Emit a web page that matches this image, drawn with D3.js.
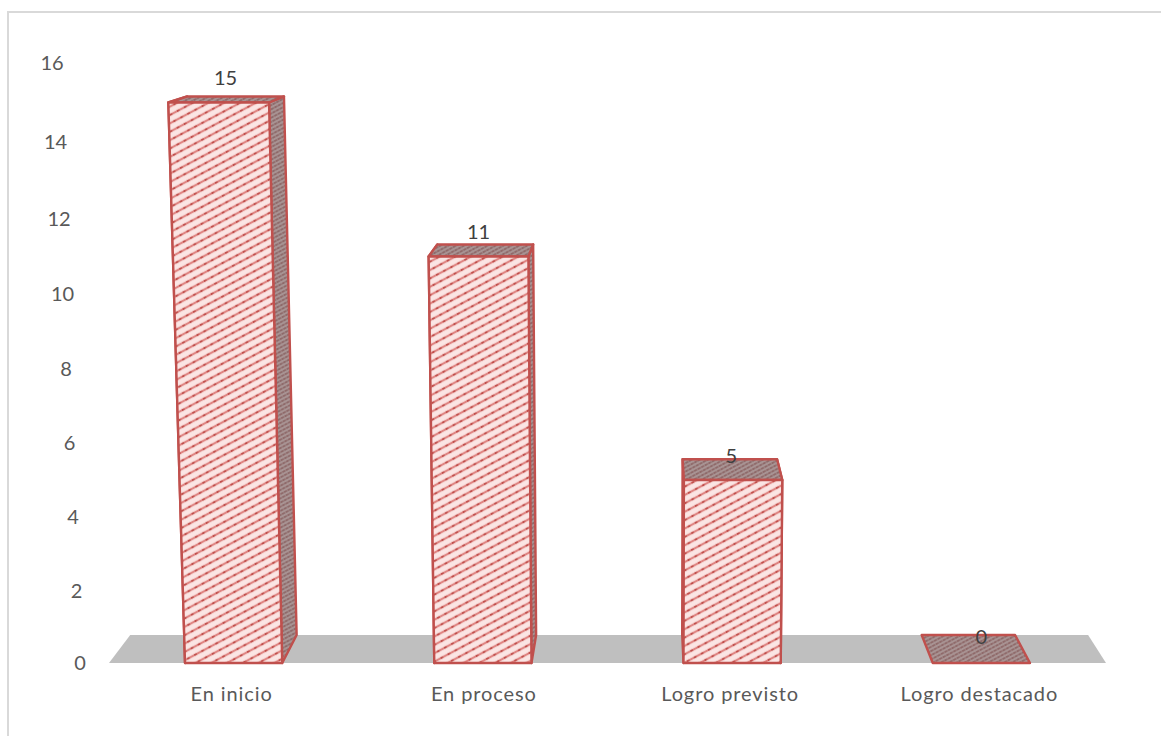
<!DOCTYPE html>
<html><head><meta charset="utf-8">
<script src="https://cdnjs.cloudflare.com/ajax/libs/d3/7.8.5/d3.min.js"></script>
<style>html,body{margin:0;background:#fff}svg{display:block}text{font-family:Lato,"Open Sans",sans-serif}</style>
</head><body><svg id="c" width="1161" height="736"></svg>
<script>
const categories = ["En inicio","En proceso","Logro previsto","Logro destacado"];
const values = [15,11,5,0];
const tickValues = [0,2,4,6,8,10,12,14,16];
const tickPixels = [663,591,517,443,369,294,219,142,63];

const svg = d3.select("#c");
const RED="#c0504d", TXT="#595959";
const defs = svg.append("defs");
function pat(id,bg,fg,sw,dark,w,h){
  const p=defs.append("pattern").attr("id",id).attr("patternUnits","userSpaceOnUse")
    .attr("width",w).attr("height",h).attr("patternTransform","rotate(-28)");
  p.append("rect").attr("width",w).attr("height",h).attr("fill",bg);
  p.append("line").attr("x1",0).attr("x2",w).attr("y1",h/2).attr("y2",h/2)
    .attr("stroke",fg).attr("stroke-width",sw);
  p.append("line").attr("x1",0).attr("x2",w).attr("y1",h/2).attr("y2",h/2)
    .attr("stroke",dark).attr("stroke-width",sw*0.9).attr("stroke-dasharray",`2.6 ${w-2.6}`);
}
pat("front","#fbe5e4","#df8583",2.2,"#c0504d",8,7.4);
pat("dark","#a99595","#9c8080",2,"#8f6a6a",4,3.7);

svg.append("path").attr("fill","none").attr("stroke","#d9d9d9").attr("stroke-width",2)
  .attr("d",d3.line()([[8,736],[8,12],[1161,12]]));

const y = d3.scaleLinear().domain(tickValues).range(tickPixels);
const x = d3.scaleBand().domain(categories).range([109,1106]).paddingInner(0.61).paddingOuter(0.305);
const baseY = y(0);
const lean=(x0,py)=>x0+(x0-650)*6.4e-5*(baseY-py);
const back=([px,py])=>[px+(650-px)*0.0392, py-(py+51)*0.0392];
const line=d3.line().curve(d3.curveLinearClosed);

const fl=[[x.range()[0],baseY],[x.range()[1],baseY]];
svg.append("path").attr("fill","#bfbfbf")
  .attr("d",line([fl[0],fl[1],back(fl[1]),back(fl[0])]));

const ax=svg.append("g").call(d3.axisLeft(y).tickValues(tickValues).tickSize(0).tickPadding(0));
ax.select(".domain").remove();
ax.selectAll(".tick").attr("transform",d=>`translate(${80-(d/16)*28},${y(d)})`);
ax.selectAll("text").attr("text-anchor","middle").attr("x",0).attr("dy","0.35em")
  .attr("fill",TXT).style("font-size","20px").style("font-family","Lato");

const bars=svg.selectAll("g.bar").data(categories).join("g").attr("class","bar");
bars.each(function(c,i){
  const g=d3.select(this), v=values[i], ty=y(v);
  const l0=x(c), r0=x(c)+x.bandwidth();
  const bl=[l0,baseY], br=[r0,baseY], tl=[lean(l0,ty),ty], tr=[lean(r0,ty),ty];
  const face=(pts,fill)=>g.append("path").attr("d",line(pts)).attr("fill",`url(#${fill})`)
    .attr("stroke",RED).attr("stroke-width",2.4).attr("stroke-linejoin","round");
  if(v>0){
    face([bl,tl,back(tl),back(bl)],"dark");
    face([br,tr,back(tr),back(br)],"dark");
  }
  face([tl,tr,back(tr),back(tl)],"dark");
  if(v>0) face([bl,br,tr,tl],"front");
});
svg.selectAll("text.val").data(values).join("text").attr("class","val")
  .attr("x",(d,i)=>x(categories[i])+x.bandwidth()/2-Math.pow(d/15,2)*8)
  .attr("y",d=>y(d)-(d==5?17:d==0?19:18))
  .attr("text-anchor","middle").attr("fill","#404040").style("font-size","20px")
  .text(d=>d);
svg.selectAll("text.cat").data(categories).join("text").attr("class","cat")
  .attr("x",c=>x(c)+x.bandwidth()/2-2+(c=="En proceso"?3:0))
  .attr("y",701)
  .attr("text-anchor","middle").attr("fill",TXT).style("font-size","20px").style("letter-spacing","0.9px")
  .text(c=>c);
</script></body></html>
